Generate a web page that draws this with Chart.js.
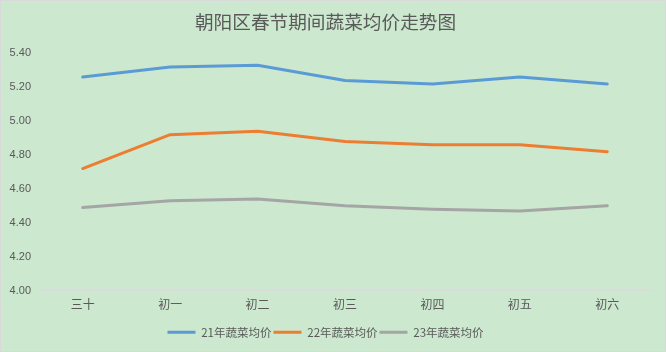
<!DOCTYPE html>
<html>
<head>
<meta charset="utf-8">
<script src="https://cdn.jsdelivr.net/npm/chart.js@4"></script>
<style>
  html, body { margin: 0; padding: 0; background: #cce8cf; }
  #wrap { width: 666px; height: 352px; }
</style>
</head>
<body>
<div id="wrap"><canvas id="myChart" width="666" height="352"></canvas></div>
<script>
// data
const days = ["三十", "初一", "初二", "初三", "初四", "初五", "初六"];
const price21 = [5.26, 5.32, 5.33, 5.24, 5.22, 5.26, 5.22];
const price22 = [4.72, 4.92, 4.94, 4.88, 4.86, 4.86, 4.82];
const price23 = [4.49, 4.53, 4.54, 4.50, 4.48, 4.47, 4.50];
const seriesNames = ["21年蔬菜均价", "22年蔬菜均价", "23年蔬菜均价"];
const yTicks = [4.0, 4.2, 4.4, 4.6, 4.8, 5.0, 5.2, 5.4];

const textColor = "#595959";
const fontFamily = "'Noto Sans CJK SC', 'Liberation Sans', sans-serif";

// background + thin border like the excel chart frame
const frame = {
  id: "frame",
  beforeDraw(chart) {
    const c = chart.ctx;
    c.save();
    c.fillStyle = "#cce8cf";
    c.fillRect(0, 0, chart.width, chart.height);
    c.strokeStyle = "#d9d9d9";
    c.lineWidth = 1;
    c.strokeRect(0.5, 0.5, chart.width - 1, chart.height - 1);
    c.restore();
  },
};

function makeSet(label, data, color) {
  return {
    label: label,
    data: data,
    borderColor: color,
    backgroundColor: color,
    borderWidth: 3,
    pointRadius: 0,
    pointHoverRadius: 0,
    tension: 0,
    borderCapStyle: "round",
    borderJoinStyle: "round",
    fill: false,
  };
}

const ctx = document.getElementById("myChart");
new Chart(ctx, {
  type: "line",
  data: {
    labels: days,
    datasets: [
      makeSet(seriesNames[0], price21, "#5b9bd5"),
      makeSet(seriesNames[1], price22, "#ed7d31"),
      makeSet(seriesNames[2], price23, "#a5a5a5"),
    ],
  },
  options: {
    responsive: false,
    animation: false,
    devicePixelRatio: 1,
    layout: { padding: { left: 0, right: 15, top: 0, bottom: 4 } },
    scales: {
      x: {
        offset: true,
        grid: { display: false, drawTicks: false },
        border: { display: true, color: "#d9d9d9", width: 1 },
        ticks: {
          color: textColor,
          font: { family: fontFamily, size: 12 },
          padding: 7,
          maxRotation: 0,
        },
        afterFit: function (scale) {
          scale.height = 34;
        },
      },
      y: {
        min: 4.0,
        max: 5.4,
        grid: { display: false, drawTicks: false },
        border: { display: false },
        afterBuildTicks: function (scale) {
          scale.ticks = yTicks.map(function (v) { return { value: v }; });
        },
        ticks: {
          color: textColor,
          font: { family: "'Liberation Sans', sans-serif", size: 11 },
          padding: 8,
          callback: function (value) {
            return Number(value).toFixed(2);
          },
        },
        afterFit: function (scale) {
          scale.width = 39;
        },
      },
    },
    plugins: {
      title: {
        display: true,
        text: "朝阳区春节期间蔬菜均价走势图",
        color: textColor,
        font: { family: fontFamily, size: 18.67, weight: "normal" },
        padding: { top: 11, bottom: 20 },
      },
      legend: {
        position: "bottom",
        labels: {
          usePointStyle: true,
          pointStyle: "line",
          pointStyleWidth: 28,
          boxHeight: 12,
          padding: 2,
          color: textColor,
          font: { family: fontFamily, size: 11.5 },
        },
      },
      tooltip: { enabled: false },
    },
  },
  plugins: [frame],
});
</script>
</body>
</html>
